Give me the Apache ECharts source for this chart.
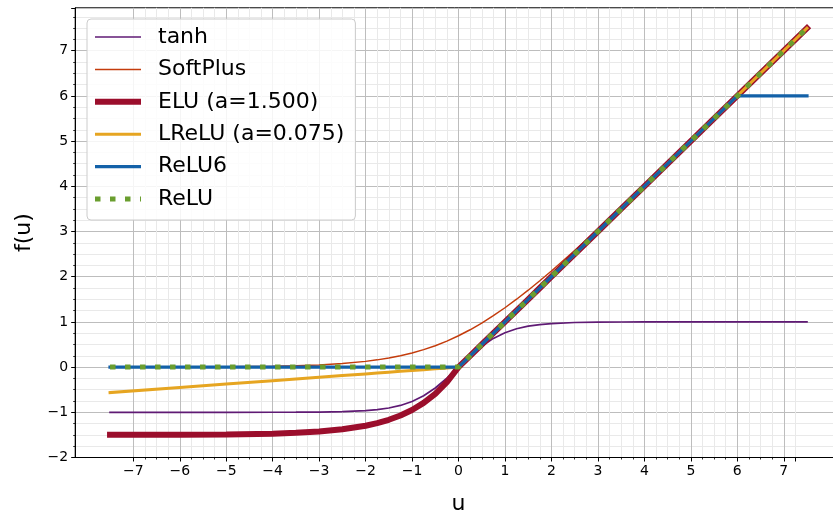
<!DOCTYPE html>
<html>
<head>
<meta charset="utf-8">
<script src="https://cdn.jsdelivr.net/npm/echarts@6/dist/echarts.min.js"></script>
<style>
  html, body { margin: 0; padding: 0; background: #fff; }
  #chart { width: 833px; height: 512px; }
</style>
</head>
<body>
<div id="chart"></div>
<script>
// sample points along u
const xs = [-7.5, -6, -5, -4, -3.5, -3, -2.5, -2, -1.75, -1.5, -1.25, -1, -0.75, -0.5, -0.25, 0,
            0.25, 0.5, 0.75, 1, 1.25, 1.5, 1.75, 2, 2.5, 3, 3.5, 4, 5, 6, 7.5];

const tanhVals = [-1, -1, -0.9999, -0.9993, -0.9982, -0.9951, -0.9866, -0.964, -0.9414, -0.9051, -0.8483, -0.7616, -0.6351, -0.4621, -0.2449, 0,
                  0.2449, 0.4621, 0.6351, 0.7616, 0.8483, 0.9051, 0.9414, 0.964, 0.9866, 0.9951, 0.9982, 0.9993, 0.9999, 1, 1];
const softplusVals = [0.0006, 0.0025, 0.0067, 0.0181, 0.0298, 0.0486, 0.0789, 0.1269, 0.1602, 0.2014, 0.2519, 0.3133, 0.3869, 0.4741, 0.5759, 0.6931,
                      0.8259, 0.9741, 1.1369, 1.3133, 1.5019, 1.7014, 1.9102, 2.1269, 2.5789, 3.0486, 3.5297, 4.0181, 5.0067, 6.0025, 7.5006];
const eluVals = [-1.4992, -1.4963, -1.4899, -1.4725, -1.4547, -1.4253, -1.3769, -1.297, -1.2393, -1.1653, -1.0703, -0.9482, -0.7914, -0.5902, -0.3318, 0,
                 0.25, 0.5, 0.75, 1, 1.25, 1.5, 1.75, 2, 2.5, 3, 3.5, 4, 5, 6, 7.5];
const lreluVals = [-0.5625, -0.45, -0.375, -0.3, -0.2625, -0.225, -0.1875, -0.15, -0.1313, -0.1125, -0.0938, -0.075, -0.0563, -0.0375, -0.0188, 0,
                   0.25, 0.5, 0.75, 1, 1.25, 1.5, 1.75, 2, 2.5, 3, 3.5, 4, 5, 6, 7.5];
const relu6Vals = [0, 0, 0, 0, 0, 0, 0, 0, 0, 0, 0, 0, 0, 0, 0, 0,
                   0.25, 0.5, 0.75, 1, 1.25, 1.5, 1.75, 2, 2.5, 3, 3.5, 4, 5, 6, 6];
const reluVals = [0, 0, 0, 0, 0, 0, 0, 0, 0, 0, 0, 0, 0, 0, 0, 0,
                  0.25, 0.5, 0.75, 1, 1.25, 1.5, 1.75, 2, 2.5, 3, 3.5, 4, 5, 6, 7.5];

const seriesNames = ['tanh', 'SoftPlus', 'ELU (a=1.500)', 'LReLU (a=0.075)', 'ReLU6', 'ReLU'];
const seriesColors = ['#5f1a74', '#c43c0c', '#9b0e2c', '#e6a521', '#1361a8', '#6a9e2f'];

const FONT = 'DejaVu Sans';
const MAJOR = '#bdbdbd';
const MINOR = '#e9e9e9';
const minus = (v) => String(v).replace('-', '\u2212');
const intLabel = (v) => Number.isInteger(v) ? minus(v) : '';

function pairs(ys) {
    return xs.map((x, i) => [x, ys[i]]);
}

function lineSeries(idx, ys, lineStyle) {
    return {
        name: seriesNames[idx],
        type: 'line',
        xAxisIndex: 0,
        yAxisIndex: 0,
        symbol: 'circle',
        showSymbol: false,
        animation: false,
        color: seriesColors[idx],
        itemStyle: { opacity: 0 },
        lineStyle: Object.assign({ color: seriesColors[idx], cap: 'square' }, lineStyle),
        data: pairs(ys)
    };
}

// vertical grid lines -7..7 are major, the last one (7.25) is a minor line
const xSplitColors = [];
for (let i = 0; i < 15; i++) xSplitColors.push(MAJOR);
xSplitColors.push(MINOR);

const chart = echarts.init(document.getElementById('chart'), null, { renderer: 'canvas' });

const options = {
    animation: false,
    textStyle: { fontFamily: FONT },
    grid: [
        // data area (right side runs past the picture edge)
        { left: 75.2, width: 766.6, top: 7.8, bottom: 54.5, outerBoundsMode: 'none', containLabel: false,
          show: true, borderColor: '#000', borderWidth: 1 },
        // x ticks only span -7..7.25
        { left: 133.3, width: 662.1, top: 7.8, bottom: 54.5, outerBoundsMode: 'none', containLabel: false }
    ],
    xAxis: [
        {
            gridIndex: 0, type: 'value', min: -8.25, max: 8.25,
            name: 'u', nameLocation: 'middle', nameGap: 36,
            nameTextStyle: { fontSize: 22, color: '#000', fontFamily: FONT },
            axisLine: { show: true, onZero: false, lineStyle: { color: '#000', width: 1 } },
            axisTick: { show: false }, axisLabel: { show: false },
            splitLine: { show: false }
        },
        {
            gridIndex: 1, type: 'value', min: -7, max: 7.25, interval: 1,
            axisLine: { show: false, onZero: false },
            axisTick: { show: true, length: 4, lineStyle: { color: '#000', width: 1 } },
            minorTick: { show: true, splitNumber: 4, length: 2, lineStyle: { color: '#000', width: 0.8 } },
            axisLabel: { color: '#000', fontSize: 14, margin: 7, formatter: intLabel },
            splitLine: { show: true, lineStyle: { color: xSplitColors, width: 1 } },
            minorSplitLine: { show: true, lineStyle: { color: MINOR, width: 1 } }
        }
    ],
    yAxis: [
        {
            gridIndex: 0, type: 'value', min: -2, max: 7.95, interval: 1,
            name: 'f(u)', nameLocation: 'middle', nameGap: 40,
            nameTextStyle: { fontSize: 22, color: '#000', fontFamily: FONT },
            axisLine: { show: true, onZero: false, lineStyle: { color: '#000', width: 1 } },
            axisTick: { show: true, length: 4, lineStyle: { color: '#000', width: 1 } },
            minorTick: { show: true, splitNumber: 4, length: 2, lineStyle: { color: '#000', width: 0.8 } },
            axisLabel: { color: '#000', fontSize: 14, margin: 7, formatter: intLabel },
            splitLine: { show: true, lineStyle: { color: MAJOR, width: 1 } },
            minorSplitLine: { show: true, lineStyle: { color: MINOR, width: 1 } }
        },
        { gridIndex: 1, type: 'value', min: 0, max: 1, show: false }
    ],
    legend: {
        orient: 'vertical',
        left: 87,
        top: 19,
        padding: [7, 11, 10, 5],
        itemWidth: 46,
        itemHeight: 14,
        itemGap: 10.4,
        backgroundColor: 'rgba(255,255,255,0.85)',
        borderColor: '#cccccc',
        borderWidth: 1,
        borderRadius: 4,
        data: seriesNames,
        itemStyle: { opacity: 0 },
        lineStyle: { width: 'inherit', type: 'inherit', cap: 'butt' },
        textStyle: { fontSize: 22, lineHeight: 20, color: '#000', fontFamily: FONT, padding: [0, 0, 0, 12] }
    },
    series: [
        lineSeries(0, tanhVals, { width: 1.7 }),
        lineSeries(1, softplusVals, { width: 1.5 }),
        lineSeries(2, eluVals, { width: 6 }),
        lineSeries(3, lreluVals, { width: 3 }),
        lineSeries(4, relu6Vals, { width: 3.3 }),
        lineSeries(5, reluVals, { width: 5, type: [5.5, 9.5], cap: 'butt' })
    ]
};

chart.setOption(options);
</script>
</body>
</html>
